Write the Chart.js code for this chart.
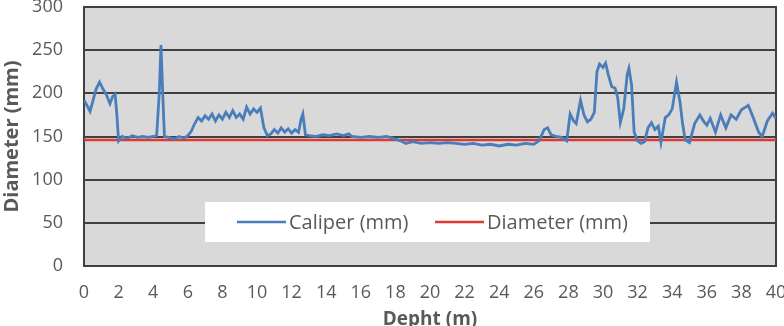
<!DOCTYPE html>
<html>
<head>
<meta charset="utf-8">
<script src="https://cdn.jsdelivr.net/npm/chart.js@4"></script>
<style>
  html, body { margin: 0; padding: 0; background: #ffffff; overflow: hidden; }
  #wrap { width: 784px; height: 326px; overflow: hidden; }
</style>
</head>
<body>
<div id="wrap"><canvas id="caliper-chart" width="784" height="331"></canvas></div>
<script>
Chart.defaults.font.family = '"Open Sans", "DejaVu Sans", sans-serif';
Chart.defaults.font.size = 18;
Chart.defaults.color = '#595959';

const depth = [
    0, 0.2, 0.35, 0.5, 0.7, 0.9, 1.1, 1.3, 1.5, 1.65, 1.8, 1.9, 2.0, 2.2, 2.5, 2.8,
    3.1, 3.4, 3.7, 4.0, 4.2, 4.35, 4.45, 4.55, 4.65, 4.9, 5.2, 5.5, 5.8, 6.0, 6.2, 6.4,
    6.6, 6.8, 7.0, 7.2, 7.4, 7.6, 7.8, 8.0, 8.2, 8.4, 8.6, 8.8, 9.0, 9.2, 9.4, 9.6,
    9.8, 10.0, 10.2, 10.4, 10.6, 10.8, 11.0, 11.2, 11.4, 11.6, 11.8, 12.0, 12.2, 12.4,
    12.55, 12.65, 12.8, 13.0, 13.4, 13.8, 14.2, 14.6, 15.0, 15.3, 15.5, 16.0, 16.5, 17.0,
    17.5, 18.0, 18.3, 18.6, 19.0, 19.5, 20.0, 20.5, 21.0, 21.5, 22.0, 22.5, 23.0, 23.5,
    24.0, 24.5, 25.0, 25.5, 26.0, 26.3, 26.6, 26.8, 27.0, 27.3, 27.6, 27.9, 28.1, 28.3,
    28.45, 28.7, 28.9, 29.1, 29.3, 29.5, 29.65, 29.8, 30.0, 30.15, 30.3, 30.5, 30.7, 30.85,
    31.0, 31.2, 31.4, 31.5, 31.65, 31.8, 32.0, 32.2, 32.4, 32.6, 32.8, 33.0, 33.2, 33.35,
    33.6, 33.8, 34.0, 34.25, 34.45, 34.6, 34.75, 35.0, 35.3, 35.6, 35.8, 36.0, 36.2, 36.5,
    36.8, 37.1, 37.4, 37.7, 38.0, 38.4, 38.7, 39.0, 39.2, 39.5, 39.8, 40.0
];
const caliper = [
    192, 185, 179, 190, 205, 213, 205, 198, 188, 196, 199, 175, 145, 150, 148, 151,
    149, 150, 149, 150, 151, 200, 256, 200, 150, 149, 147, 150, 148, 151, 156, 165,
    172, 168, 174, 170, 176, 168, 175, 170, 178, 172, 180, 172, 176, 170, 184, 176,
    182, 178, 183, 160, 151, 153, 158, 154, 160, 155, 159, 154, 158, 155,
    170, 176, 152, 151, 150, 152, 151, 153, 151, 153, 150, 149, 150, 149,
    150, 147, 145, 142, 144, 142, 143, 142, 143, 142, 141, 142, 140, 141,
    139, 141, 140, 142, 141, 145, 158, 160, 152, 150, 149, 145, 176, 168,
    165, 192, 175, 167, 170, 178, 225, 234, 230, 235, 222, 208, 206, 195,
    166, 182, 222, 229, 210, 155, 145, 142, 144, 160, 166, 158, 162, 143,
    172, 175, 182, 213, 190, 165, 146, 143, 165, 175, 168, 163, 171, 155,
    175, 160, 175, 170, 181, 186, 171, 155, 150, 168, 177, 171
];
const designDepth = [0, 40];
const designDiameter = [146, 146];

const yTicks = [0, 50, 100, 150, 200, 250, 300];

// plot background, frame and the in-plot legend
const plotDecor = {
    id: 'plotDecor',
    beforeDraw(chart) {
        const a = chart.chartArea;
        const ctx = chart.ctx;
        ctx.save();
        ctx.fillStyle = '#d9d9d9';
        ctx.fillRect(a.left, a.top, a.right - a.left, a.bottom - a.top);
        ctx.restore();
    },
    beforeDatasetsDraw(chart) {
        const a = chart.chartArea;
        const ctx = chart.ctx;
        ctx.save();
        ctx.strokeStyle = '#404040';
        ctx.lineWidth = 2;
        ctx.strokeRect(a.left, a.top, a.right - a.left, a.bottom - a.top);
        ctx.restore();
    },
    afterDraw(chart) {
        const ctx = chart.ctx;
        const sets = chart.data.datasets;
        ctx.save();
        ctx.fillStyle = '#ffffff';
        ctx.fillRect(205, 202, 445, 40);
        const items = [
            { x: 237, ds: sets[0] },
            { x: 435, ds: sets[1] }
        ];
        ctx.font = '20px "Open Sans", sans-serif';
        ctx.textBaseline = 'middle';
        ctx.fillStyle = '#595959';
        items.forEach(it => {
            ctx.strokeStyle = it.ds.borderColor;
            ctx.lineWidth = 2.5;
            ctx.beginPath();
            ctx.moveTo(it.x, 222);
            ctx.lineTo(it.x + 49, 222);
            ctx.stroke();
            ctx.fillText(it.ds.label, it.x + 52, 223);
        });
        ctx.restore();
    }
};

const caliperData = {
    datasets: [{
        label: 'Caliper (mm)',
        data: depth.map((d, i) => ({ x: d, y: caliper[i] })),
        borderColor: '#4a7ebb',
        borderWidth: 2.8,
        pointRadius: 0,
        tension: 0
    }, {
        label: 'Diameter (mm)',
        data: designDepth.map((d, i) => ({ x: d, y: designDiameter[i] })),
        borderColor: '#dc3a33',
        borderWidth: 2.5,
        pointRadius: 0,
        tension: 0
    }]
};

const caliperConfig = {
    type: 'line',
    data: caliperData,
    options: {
        responsive: false,
        animation: false,
        layout: { padding: { top: 7, right: 8, left: 0, bottom: 0 } },
        plugins: {
            legend: { display: false },
            tooltip: { enabled: false }
        },
        scales: {
            x: {
                type: 'linear',
                min: 0,
                max: 40,
                ticks: { stepSize: 2, padding: 16, maxRotation: 0 },
                grid: { display: false, drawTicks: false },
                border: { display: true, color: '#404040', width: 2 },
                title: { display: true, text: 'Depht (m)', font: { weight: 'bold', size: 19 }, padding: { top: 0, bottom: 0 } },
                afterFit(scale) {
                    scale.height = 65;
                    scale.paddingLeft = 0;
                    scale.paddingRight = 0;
                }
            },
            y: {
                min: 0,
                max: 300,
                afterBuildTicks(scale) {
                    scale.ticks = yTicks.map(v => ({ value: v }));
                },
                ticks: { padding: 21 },
                grid: { color: '#404040', lineWidth: 2, drawTicks: false },
                border: { display: true, color: '#404040', width: 2 },
                title: { display: true, text: 'Diameter (mm)', font: { weight: 'bold', size: 20 }, padding: 0 },
                afterFit(scale) {
                    scale.width = 84;
                    scale.paddingTop = 0;
                    scale.paddingBottom = 0;
                }
            }
        }
    },
    plugins: [plotDecor]
};

// render caliper graph
const caliperChart = new Chart(
    document.getElementById('caliper-chart'),
    caliperConfig
);
</script>
</body>
</html>
